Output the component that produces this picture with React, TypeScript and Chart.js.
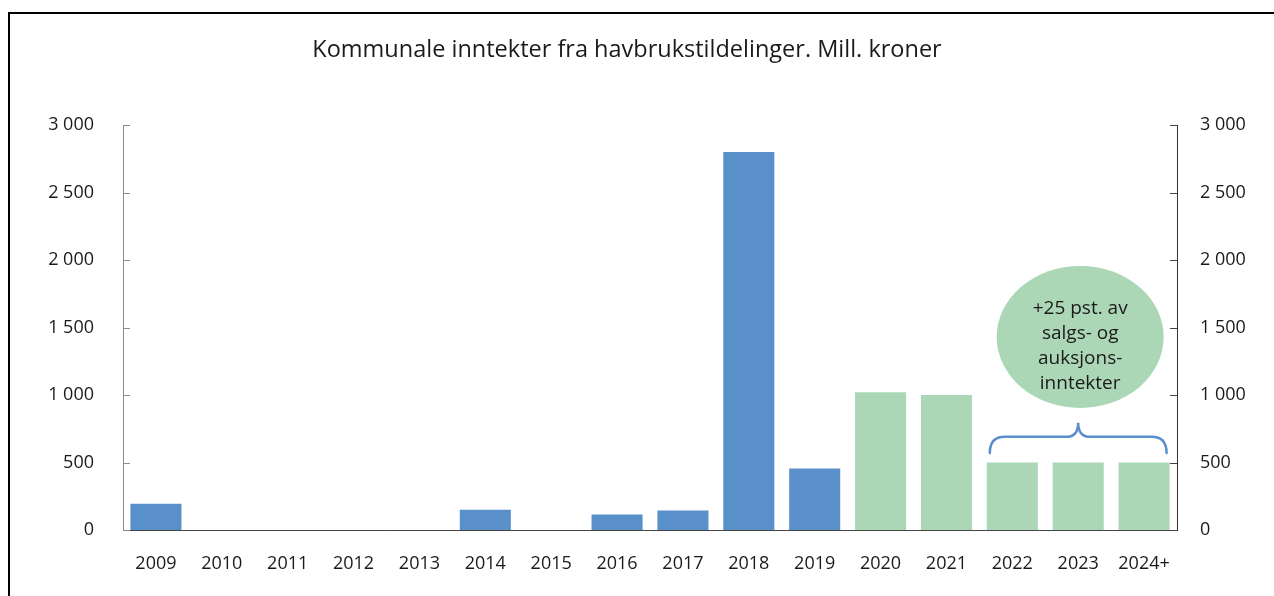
import React, { useEffect, useRef } from 'react';
import { Chart, registerables } from 'chart.js';

Chart.register(...registerables);

const categories = ['2009', '2010', '2011', '2012', '2013', '2014', '2015', '2016', '2017', '2018', '2019', '2020', '2021', '2022', '2023', '2024+'];
const actualValues = [195, 0, 0, 0, 0, 150, 0, 115, 145, 2800, 455, null, null, null, null, null];
const projectedValues = [null, null, null, null, null, null, null, null, null, null, null, 1020, 1000, 500, 500, 500];
const yTicks = [0, 500, 1000, 1500, 2000, 2500, 3000];
const titleText = 'Kommunale inntekter fra havbrukstildelinger. Mill. kroner';
const bubbleLines = ['+25 pst. av', 'salgs- og', 'auksjons-', 'inntekter'];
const braceFirst = 13;
const braceLast = 15;

const BLUE = '#5a90ca';
const GREEN = '#acd7b6';
const TEXT = '#1a1a1a';
const FONT = '"Open Sans", sans-serif';
const BAR_PCT = 0.775;

const fmt = (v: number) => String(v).replace(/\B(?=(\d{3})+(?!\d))/g, ' ');

const decorPlugin = {
  id: 'decor',
  afterDraw(chart: any) {
    const ctx = chart.ctx;
    const x = chart.scales.x;
    const y = chart.scales.y;
    const y2 = chart.scales.y2;
    const area = chart.chartArea;
    ctx.save();

    // frame
    ctx.fillStyle = '#000';
    ctx.fillRect(8, 12, 2, chart.height - 12);
    ctx.fillRect(8, 12, chart.width - 8, 2);

    // title
    ctx.fillStyle = TEXT;
    ctx.font = `23.5px ${FONT}`;
    ctx.textAlign = 'center';
    ctx.textBaseline = 'alphabetic';
    ctx.fillText(titleText, 627, 57);

    // inner tick marks
    ctx.lineWidth = 1;
    ctx.strokeStyle = '#8a8a8a';
    yTicks.forEach((t) => {
      const py = Math.round(y.getPixelForValue(t)) + 0.5;
      ctx.beginPath();
      ctx.moveTo(area.left, py);
      ctx.lineTo(area.left + 7, py);
      ctx.stroke();
    });
    ctx.strokeStyle = '#444';
    yTicks.forEach((t) => {
      const py = Math.round(y2.getPixelForValue(t)) + 0.5;
      ctx.beginPath();
      ctx.moveTo(area.right - 7, py);
      ctx.lineTo(area.right, py);
      ctx.stroke();
    });

    // brace
    const catW = x.getPixelForValue(1) - x.getPixelForValue(0);
    const half = (catW * BAR_PCT) / 2;
    const left = x.getPixelForValue(braceFirst) - half + 3;
    const right = x.getPixelForValue(braceLast) + half - 3;
    const mid = x.getPixelForValue((braceFirst + braceLast) / 2);
    const yEnd = y.getPixelForValue(570);
    const yLine = y.getPixelForValue(690);
    const yTip = y.getPixelForValue(795);
    ctx.strokeStyle = '#5b8fcb';
    ctx.lineWidth = 2.5;
    ctx.lineCap = 'round';
    ctx.beginPath();
    ctx.moveTo(left, yEnd);
    ctx.quadraticCurveTo(left, yLine, left + 15, yLine);
    ctx.lineTo(mid - 12, yLine);
    ctx.quadraticCurveTo(mid, yLine, mid, yTip);
    ctx.quadraticCurveTo(mid, yLine, mid + 12, yLine);
    ctx.lineTo(right - 15, yLine);
    ctx.quadraticCurveTo(right, yLine, right, yEnd);
    ctx.stroke();

    // bubble
    const cx = mid + 2;
    const cy = y.getPixelForValue(1430);
    ctx.fillStyle = GREEN;
    ctx.beginPath();
    ctx.ellipse(cx, cy, 83.5, 71, 0, 0, Math.PI * 2);
    ctx.fill();
    ctx.fillStyle = TEXT;
    ctx.font = `19px ${FONT}`;
    ctx.textAlign = 'center';
    ctx.textBaseline = 'middle';
    bubbleLines.forEach((line, i) => {
      ctx.fillText(line, cx, cy - 28 + i * 25);
    });

    ctx.restore();
  },
};

export default function App() {
  const ref = useRef<HTMLCanvasElement | null>(null);
  useEffect(() => {
    if (!ref.current) return;
    const chart = new Chart(ref.current, {
      type: 'bar',
      data: {
        labels: categories,
        datasets: [
          { data: actualValues as any, backgroundColor: BLUE, borderWidth: 0, barPercentage: BAR_PCT, categoryPercentage: 1, yAxisID: 'y' },
          { data: projectedValues as any, backgroundColor: GREEN, borderWidth: 0, barPercentage: BAR_PCT, categoryPercentage: 1, yAxisID: 'y' },
        ],
      },
      options: {
        responsive: false,
        animation: false,
        layout: { padding: { top: 125, left: 0, right: 0, bottom: 0 } },
        plugins: { legend: { display: false }, title: { display: false }, tooltip: { enabled: false } },
        scales: {
          x: {
            stacked: true,
            grid: { display: false, drawTicks: false },
            border: { display: true, color: '#444', width: 1 },
            ticks: { color: TEXT, font: { family: FONT, size: 18 }, padding: 23, maxRotation: 0, autoSkip: false },
            afterFit: (s: any) => { s.height = 66; },
          },
          y: {
            stacked: true,
            position: 'left',
            min: 0,
            max: 3000,
            grid: { display: false, drawTicks: false },
            border: { display: true, color: '#8a8a8a', width: 1 },
            ticks: { stepSize: 500, color: TEXT, font: { family: FONT, size: 18 }, padding: 29, callback: (v: any) => fmt(Number(v)) },
            afterFit: (s: any) => { s.width = 123; },
          },
          y2: {
            position: 'right',
            min: 0,
            max: 3000,
            grid: { display: false, drawTicks: false },
            border: { display: true, color: '#333', width: 1 },
            ticks: { stepSize: 500, color: TEXT, font: { family: FONT, size: 18 }, padding: 23, callback: (v: any) => fmt(Number(v)) },
            afterFit: (s: any) => { s.width = 97; },
          },
        },
      },
      plugins: [decorPlugin],
    });
    return () => chart.destroy();
  }, []);
  return (
    <div style={{ position: 'fixed', left: 0, top: 0, width: 1274, height: 596, background: '#fff' }}>
      <canvas ref={ref} width={1274} height={596} style={{ display: 'block', width: 1274, height: 596 }} />
    </div>
  );
}
